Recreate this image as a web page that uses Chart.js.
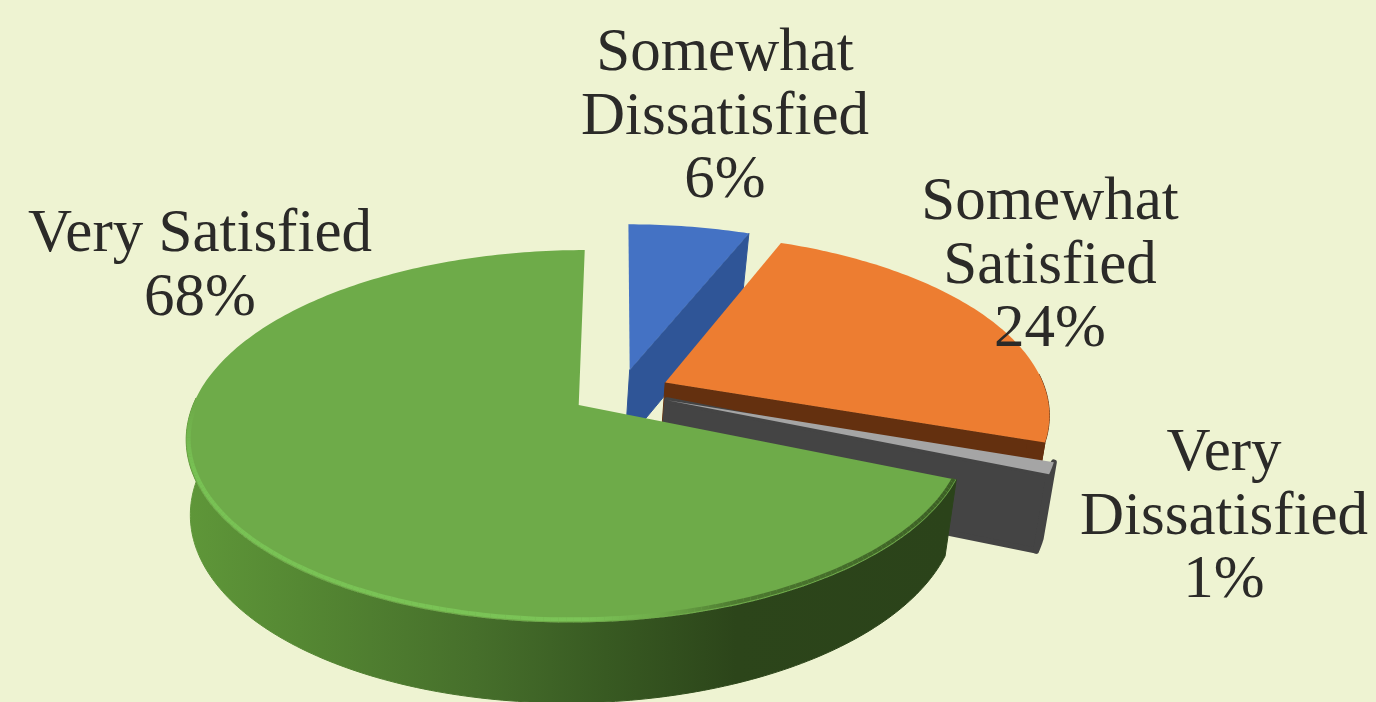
<!DOCTYPE html>
<html>
<head>
<meta charset="utf-8">
<title>Satisfaction pie</title>
<script src="https://cdn.jsdelivr.net/npm/chart.js@4"></script>
<style>
    html, body { margin: 0; padding: 0; background: #eef3d2; overflow: hidden; }
    #chartBox { position: relative; width: 1376px; height: 702px; }
</style>
</head>
<body>
<div id="chartBox"><canvas id="pieChart" width="1376" height="702"></canvas></div>
<script>
// Values
const categories = ['Somewhat Dissatisfied', 'Somewhat Satisfied', 'Very Dissatisfied', 'Very Satisfied'];
const percentages = [6, 24, 1, 68];

// Slice colours
const topColors = ['#4472c4', '#ed7d31', '#a5a5a5', '#6eab49'];
const wallColors = ['#2f5597', '#64300f', '#444444', '#3c5f25'];

// Label text, one entry per line above the percentage, and where each block sits
const labelLines = [['Somewhat', 'Dissatisfied'], ['Somewhat', 'Satisfied'], ['Very', 'Dissatisfied'], ['Very Satisfied']];
const labelCenterX = [725, 1050, 1224, 200];
const labelFirstBaseline = [70, 219, 470, 251];
const labelLineHeight = 63.5;

// Tilted view of the pie plane
const view = { cx: 620.5, cy: 392, a: 381, b: 176.6, k: 0.1666, depth: 74, lowerCx: 616, lowerA: 373.4, lowerB: 181.5 };

function project(ux, uy, lower) {
    const s = 1 / (1 - view.k * uy);
    return {
        x: (lower ? view.lowerCx : view.cx) + (lower ? view.lowerA : view.a) * ux * s,
        y: view.cy + (lower ? view.lowerB : view.b) * uy * s + (lower ? view.depth : 0)
    };
}

// Turns a Chart.js arc into unit coordinates on the pie plane
function arcGeometry(arc) {
    const p = arc.getProps(['startAngle', 'endAngle', 'outerRadius']);
    const mid = (p.startAngle + p.endAngle) / 2;
    const shift = (arc.options.offset / 4) / p.outerRadius;
    const ox = Math.cos(mid) * shift;
    const oy = Math.sin(mid) * shift;
    const rim = [];
    const steps = Math.max(4, Math.ceil((p.endAngle - p.startAngle) * 60));
    for (let i = 0; i <= steps; i++) {
        const t = p.startAngle + (p.endAngle - p.startAngle) * i / steps;
        rim.push({ ux: ox + Math.cos(t), uy: oy + Math.sin(t), t: t });
    }
    return { ox, oy, rim, endAngle: p.endAngle };
}

function tracePath(ctx, pts) {
    ctx.beginPath();
    pts.forEach((pt, i) => {
        if (i === 0) ctx.moveTo(pt.x, pt.y);
        else ctx.lineTo(pt.x, pt.y);
    });
    ctx.closePath();
}

function greenWallFill(ctx) {
    const g = ctx.createLinearGradient(185, 0, 950, 0);
    g.addColorStop(0, '#5f9739');
    g.addColorStop(0.15, '#558833');
    g.addColorStop(0.38, '#466f2b');
    g.addColorStop(0.55, '#385a22');
    g.addColorStop(0.72, '#2c451a');
    g.addColorStop(1, '#2b431a');
    return g;
}

// Lighter bevel along the front edge of the big slice, fading in from the left
function drawBevel(ctx, geo) {
    const rim = ctx.createLinearGradient(185, 0, 950, 0);
    rim.addColorStop(0, '#78c254');
    rim.addColorStop(0.52, '#7bc457');
    rim.addColorStop(0.62, '#6eab49');
    rim.addColorStop(0.72, '#4d7a30');
    rim.addColorStop(1, '#3c5f25');
    const edge = geo.rim.filter(r => Math.sin(r.t) > 0);
    ctx.strokeStyle = rim;
    ctx.lineCap = 'butt';
    for (let i = 1; i < edge.length; i++) {
        const a = project(edge[i - 1].ux - 0.006 * Math.cos(edge[i - 1].t), edge[i - 1].uy - 0.012 * Math.sin(edge[i - 1].t), false);
        const b = project(edge[i].ux - 0.006 * Math.cos(edge[i].t), edge[i].uy - 0.012 * Math.sin(edge[i].t), false);
        ctx.globalAlpha = Math.min(1, Math.sin(edge[i].t) * 3);
        ctx.beginPath();
        ctx.moveTo(a.x, a.y);
        ctx.lineTo(b.x, b.y);
        ctx.lineWidth = 4;
        ctx.stroke();
    }
    ctx.globalAlpha = 1;
}

function drawSlice(ctx, arc, index) {
    const geo = arcGeometry(arc);
    const upper = geo.rim.map(r => project(r.ux, r.uy, false));
    const apexTop = project(geo.ox, geo.oy, false);
    const apexLow = project(geo.ox, geo.oy, true);
    const isGreen = index === percentages.length - 1;
    const wall = isGreen ? greenWallFill(ctx) : wallColors[index];

    ctx.lineJoin = 'round';
    ctx.fillStyle = wall;
    ctx.strokeStyle = wall;
    ctx.lineWidth = index === 2 ? 6 : 1;

    // cut face on the clockwise side, only when it looks towards the viewer
    if (Math.cos(geo.endAngle) > 0.01) {
        const last = geo.rim[geo.rim.length - 1];
        tracePath(ctx, [apexTop, project(last.ux, last.uy, false), project(last.ux, last.uy, true), apexLow]);
        ctx.fill();
        ctx.stroke();
    }

    // curved outer wall, front part only
    const front = geo.rim.filter(r => Math.sin(r.t) > -0.05);
    if (front.length > 1) {
        const frontUpper = front.map(r => project(r.ux, r.uy, false));
        const frontLower = front.map(r => project(r.ux, r.uy, true));
        tracePath(ctx, frontUpper.concat(frontLower.reverse()));
        ctx.fill();
        ctx.stroke();
    }

    // top face
    ctx.fillStyle = topColors[index];
    tracePath(ctx, [apexTop].concat(upper));
    ctx.fill();

    if (isGreen) drawBevel(ctx, geo);
}

const tiltedPie = {
    id: 'tiltedPie',
    beforeDatasetDraw(chart, args) {
        const ctx = chart.ctx;
        ctx.save();
        args.meta.data.forEach((arc, i) => drawSlice(ctx, arc, i));
        ctx.restore();
        return false;
    },
    afterDatasetsDraw(chart) {
        const ctx = chart.ctx;
        ctx.save();
        ctx.font = '61px "Liberation Serif"';
        ctx.fillStyle = '#2b2a28';
        ctx.textAlign = 'center';
        ctx.textBaseline = 'alphabetic';
        categories.forEach((name, i) => {
            const lines = labelLines[i].concat(percentages[i] + '%');
            lines.forEach((line, n) => {
                ctx.fillText(line, labelCenterX[i], labelFirstBaseline[i] + n * labelLineHeight);
            });
        });
        ctx.restore();
    }
};

new Chart(document.getElementById('pieChart'), {
    type: 'pie',
    data: {
        labels: categories,
        datasets: [{
            data: percentages,
            backgroundColor: topColors,
            borderWidth: 0,
            offset: 145
        }]
    },
    options: {
        responsive: false,
        animation: false,
        events: [],
        plugins: {
            legend: { display: false },
            tooltip: { enabled: false }
        }
    },
    plugins: [tiltedPie]
});
</script>
</body>
</html>
